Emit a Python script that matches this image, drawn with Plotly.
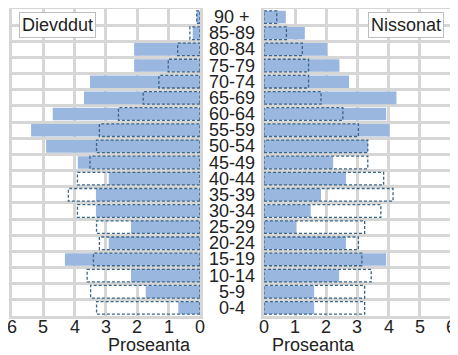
import plotly.graph_objects as go

ages = ["0-4", "5-9", "10-14", "15-19", "20-24", "25-29", "30-34", "35-39",
        "40-44", "45-49", "50-54", "55-59", "60-64", "65-69", "70-74",
        "75-79", "80-84", "85-89", "90 +"]

# Dievddut (men), percent
men_now = [0.69, 1.73, 2.2, 4.31, 2.91, 2.2, 3.32, 3.32, 2.91, 3.9,
           4.91, 5.39, 4.7, 3.7, 3.51, 2.1, 2.1, 0.23, 0.1]
men_ref = [3.3, 3.49, 3.6, 3.4, 3.21, 3.3, 3.91, 4.2, 3.91, 3.51,
           3.3, 3.21, 2.6, 1.81, 1.31, 1.01, 0.71, 0.32, 0.1]

# Nissonat (women), percent
women_now = [1.61, 1.61, 2.41, 3.92, 2.63, 1.03, 1.5, 1.83, 2.63, 2.22,
             3.33, 4.03, 3.92, 4.25, 2.73, 2.42, 2.03, 1.31, 0.7]
women_ref = [3.23, 3.23, 3.44, 3.14, 3.03, 3.23, 3.75, 4.14, 3.84, 3.33,
             3.33, 3.03, 2.53, 1.83, 1.43, 1.43, 1.23, 0.72, 0.41]

xticks = [0, 1, 2, 3, 4, 5, 6]

BAR = "#9ab7df"
DASH = "#3a6687"
GRID = "#d6d6d6"
TXT = "#222222"
FONT = "Liberation Sans, Arial, sans-serif"
half = 0.39

pos = list(range(len(ages)))


def outline(vals):
    xs, ys = [], []
    for i, v in zip(pos, vals):
        xs += [0, v, v, 0, 0, None]
        ys += [i - half, i - half, i + half, i + half, i - half, None]
    return xs, ys


fig = go.Figure()

fig.add_trace(go.Bar(x=men_now, y=pos, orientation="h", width=2 * half,
                     marker=dict(color=BAR, line=dict(width=0)),
                     xaxis="x", yaxis="y", showlegend=False))
fig.add_trace(go.Bar(x=women_now, y=pos, orientation="h", width=2 * half,
                     marker=dict(color=BAR, line=dict(width=0)),
                     xaxis="x2", yaxis="y2", showlegend=False))

mx, my = outline(men_ref)
fig.add_trace(go.Scatter(x=mx, y=my, mode="lines",
                         line=dict(color=DASH, width=1.3, dash="3px,2px"),
                         xaxis="x", yaxis="y", showlegend=False))
wx, wy = outline(women_ref)
fig.add_trace(go.Scatter(x=wx, y=wy, mode="lines",
                         line=dict(color=DASH, width=1.3, dash="3px,2px"),
                         xaxis="x2", yaxis="y2", showlegend=False))

# age labels in the middle
for i, a in zip(pos, ages):
    fig.add_annotation(x=0.5, xref="paper", y=i, yref="y", text=a,
                       showarrow=False, xanchor="center",
                       font=dict(size=18, color=TXT, family=FONT))

fig.add_annotation(x=0.016, xref="paper", y=0.99, yref="paper", text="Dievddut",
                   showarrow=False, xanchor="left", yanchor="top",
                   bgcolor="white", bordercolor="#bdbdbd", borderwidth=1,
                   borderpad=2, font=dict(size=18, color=TXT, family=FONT))
fig.add_annotation(x=0.984, xref="paper", y=0.99, yref="paper", text="Nissonat",
                   showarrow=False, xanchor="right", yanchor="top",
                   bgcolor="white", bordercolor="#bdbdbd", borderwidth=1,
                   borderpad=2, font=dict(size=18, color=TXT, family=FONT))

# x tick labels, placed close under the plot like the original
for ax in ("x", "x2"):
    for t in xticks:
        fig.add_annotation(x=t, xref=ax, y=0, yref="paper", yshift=-11,
                           text=str(t), showarrow=False, yanchor="middle",
                           font=dict(size=18, color=TXT, family=FONT))

# axis titles
for xc in (0.214, 0.787):
    fig.add_annotation(x=xc, xref="paper", y=0, yref="paper", yshift=-29,
                       text="Proseanta", showarrow=False, yanchor="middle",
                       font=dict(size=18, color=TXT, family=FONT))

xcommon = dict(tickmode="array", tickvals=xticks, showgrid=True,
               gridcolor=GRID, gridwidth=3, zeroline=False, automargin=False,
               showline=True, mirror=True, linecolor=GRID, linewidth=3,
               ticks="", showticklabels=False)
ycommon = dict(range=[-0.5, 18.5], tickmode="linear", tick0=-0.5, dtick=1,
               showgrid=True, gridcolor=GRID, gridwidth=3, zeroline=False,
               showline=True, mirror=True, linecolor=GRID, linewidth=3,
               showticklabels=False, ticks="", automargin=False)

# page body has an 8px margin, so the figure is sized to fit the window
fig.update_layout(
    width=450, height=347,
    margin=dict(l=4, r=7, t=1, b=39),
    paper_bgcolor="white", plot_bgcolor="white",
    barmode="overlay",
    xaxis=dict(domain=[0, 0.428], range=[6, 0], **xcommon),
    xaxis2=dict(domain=[0.574, 1], range=[0, 6], anchor="y2", **xcommon),
    yaxis=dict(anchor="x", **ycommon),
    yaxis2=dict(anchor="x2", **ycommon),
    font=dict(family=FONT),
)

fig.write_html("out.html")
